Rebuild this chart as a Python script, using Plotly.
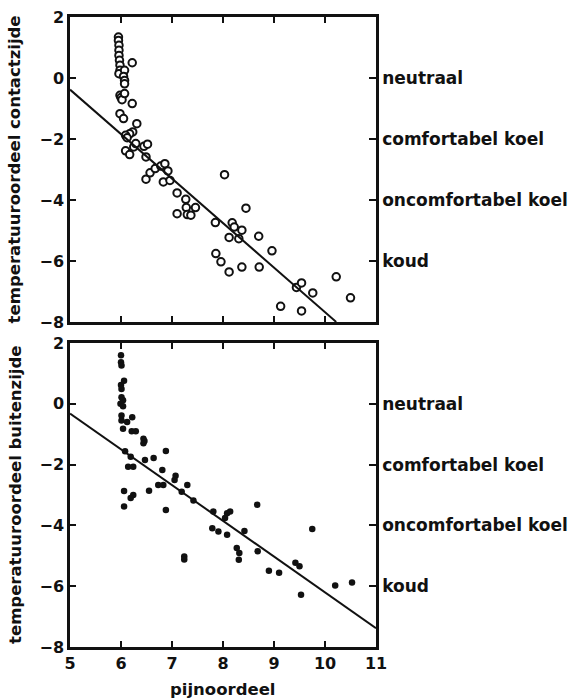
import plotly.graph_objects as go

# Open circles: pain score vs. temperature judgement, contact side
contact_x = [5.95, 5.95, 5.96, 5.96, 5.96, 5.97, 5.98, 5.98, 5.96, 6.07, 6.05, 6.07, 6.07,
             6.22, 5.98, 6.00, 6.02, 6.07, 6.22, 5.98, 6.05, 6.31, 6.23, 6.17, 6.09, 6.12,
             6.09, 6.17, 6.25, 6.29, 6.45, 6.52, 6.49, 6.49, 6.57, 6.67, 6.78, 6.86, 6.92,
             6.83, 6.96, 7.10, 7.10, 7.27, 7.28, 7.30, 7.37, 7.46, 7.85, 7.86, 7.96, 8.03,
             8.12, 8.12, 8.18, 8.22, 8.31, 8.37, 8.37, 8.45, 8.70, 8.71, 8.96, 9.13, 9.44,
             9.54, 9.54, 9.76, 10.22, 10.50]
contact_y = [1.34, 1.23, 1.07, 0.91, 0.74, 0.58, 0.42, 0.25, 0.14, 0.25, 0.05, -0.08, -0.19,
             0.50, -0.57, -0.64, -0.71, -0.51, -0.84, -1.17, -1.33, -1.50, -1.77, -1.83, -1.88,
             -1.96, -2.39, -2.51, -2.26, -2.15, -2.24, -2.17, -2.59, -3.32, -3.11, -2.97, -2.89,
             -2.81, -3.05, -3.41, -3.36, -3.77, -4.45, -3.98, -4.25, -4.48, -4.50, -4.25, -4.74,
             -5.76, -6.03, -3.17, -5.23, -6.36, -4.75, -4.89, -5.27, -4.99, -6.20, -4.27, -5.19,
             -6.20, -5.67, -7.49, -6.87, -6.72, -7.64, -7.05, -6.52, -7.21]

# Filled dots: pain score vs. temperature judgement, outer side
outer_x = [6.00, 6.00, 6.01, 6.06, 6.00, 6.01, 6.01, 6.04, 5.99, 6.04, 6.01, 6.01, 6.12,
           6.22, 6.04, 6.21, 6.29, 6.44, 6.46, 6.44, 6.08, 6.19, 6.88, 6.47, 6.64, 6.14,
           6.24, 6.81, 7.07, 7.05, 6.73, 6.83, 7.30, 6.06, 6.55, 7.19, 6.24, 6.19, 6.06,
           6.88, 7.42, 7.81, 8.08, 8.14, 8.04, 7.79, 7.91, 8.08, 8.42, 8.67, 8.27, 8.32,
           8.31, 7.24, 7.24, 8.68, 8.90, 9.10, 9.42, 9.50, 9.53, 9.75, 10.20, 10.53]
outer_y = [1.60, 1.37, 1.26, 0.76, 0.62, 0.49, 0.22, 0.12, 0.00, -0.08, -0.38, -0.55, -0.60,
           -0.44, -0.82, -0.90, -0.90, -1.15, -1.22, -1.30, -1.56, -1.74, -1.55, -1.85, -1.78,
           -2.07, -2.07, -2.18, -2.37, -2.51, -2.67, -2.67, -2.67, -2.87, -2.86, -2.89, -3.00,
           -3.10, -3.38, -3.49, -3.18, -3.54, -3.60, -3.54, -3.76, -4.09, -4.20, -4.31, -4.18,
           -3.32, -4.74, -4.91, -5.13, -5.02, -5.12, -4.85, -5.49, -5.56, -5.23, -5.34, -6.28,
           -4.12, -5.98, -5.88]

# Fitted regression lines (end points)
contact_fit_x = [5.0, 10.22]
contact_fit_y = [-0.38, -8.0]
outer_fit_x = [5.0, 11.0]
outer_fit_y = [-0.32, -7.38]

x_ticks = [5, 6, 7, 8, 9, 10, 11]
y_ticks = [2, 0, -2, -4, -6, -8]
scale_vals = [0, -2, -4, -6]
scale_text = ["neutraal", "comfortabel koel", "oncomfortabel koel", "koud"]

FONT = "DejaVu Sans"
INK = "#111111"

fig = go.Figure()

fig.add_trace(go.Scatter(x=contact_x, y=contact_y, mode="markers", xaxis="x", yaxis="y",
                         marker=dict(symbol="circle", size=7.5, color="white",
                                     line=dict(color=INK, width=2)),
                         showlegend=False))
fig.add_trace(go.Scatter(x=contact_fit_x, y=contact_fit_y, mode="lines", xaxis="x", yaxis="y",
                         line=dict(color=INK, width=2), showlegend=False))

fig.add_trace(go.Scatter(x=outer_x, y=outer_y, mode="markers", xaxis="x2", yaxis="y3",
                         marker=dict(symbol="circle", size=6.5, color=INK),
                         showlegend=False))
fig.add_trace(go.Scatter(x=outer_fit_x, y=outer_fit_y, mode="lines", xaxis="x2", yaxis="y3",
                         line=dict(color=INK, width=2), showlegend=False))

# invisible traces to activate the right-hand scale axes
fig.add_trace(go.Scatter(x=[5], y=[0], mode="markers", xaxis="x", yaxis="y2",
                         marker=dict(opacity=0), showlegend=False, hoverinfo="skip"))
fig.add_trace(go.Scatter(x=[5], y=[0], mode="markers", xaxis="x2", yaxis="y4",
                         marker=dict(opacity=0), showlegend=False, hoverinfo="skip"))

tick_font = dict(family=FONT, size=16, color=INK, weight="bold")
scale_font = dict(family=FONT, size=17, color=INK, weight="bold")
title_font = dict(family=FONT, size=16.5, color=INK, weight="bold")

top_dom = [0.516, 1.0]
bot_dom = [0.0, 0.4825]

xcommon = dict(range=[5, 11], tickvals=x_ticks, ticks="inside", ticklen=6, tickwidth=2,
               tickcolor=INK, showline=True, linewidth=2.5, linecolor=INK, mirror="ticks",
               showgrid=False, zeroline=False, tickfont=tick_font, automargin=False)
ycommon = dict(range=[-8, 2], tickvals=y_ticks, ticks="inside", ticklen=6, tickwidth=2,
               tickcolor=INK, showline=True, linewidth=2.5, linecolor=INK, mirror=True,
               showgrid=False, zeroline=False, tickfont=tick_font, automargin=False)
yright = dict(range=[-8, 2], tickvals=scale_vals, ticktext=scale_text, ticks="inside",
              ticklen=7, tickwidth=2, tickcolor=INK, side="right", showline=True,
              linewidth=2.5, linecolor=INK, showgrid=False, zeroline=False,
              tickfont=scale_font, automargin=False)

fig.update_layout(
    width=571, height=700,
    margin=dict(l=70, r=195, t=17, b=53, autoexpand=False),
    paper_bgcolor="white", plot_bgcolor="white",
    xaxis=dict(xcommon, anchor="y", showticklabels=False, domain=[0, 1]),
    yaxis=dict(ycommon, anchor="x", domain=top_dom),
    yaxis2=dict(yright, anchor="x", overlaying="y"),
    xaxis2=dict(xcommon, anchor="y3", domain=[0, 1]),
    yaxis3=dict(ycommon, anchor="x2", domain=bot_dom),
    yaxis4=dict(yright, anchor="x2", overlaying="y3"),
    annotations=[
        dict(text="temperatuuroordeel contactzijde", xref="paper", yref="paper",
             x=-0.18, y=(top_dom[0] + top_dom[1]) / 2, textangle=-90, showarrow=False,
             xanchor="center", yanchor="middle", font=title_font),
        dict(text="temperatuuroordeel buitenzijde", xref="paper", yref="paper",
             x=-0.18, y=(bot_dom[0] + bot_dom[1]) / 2, textangle=-90, showarrow=False,
             xanchor="center", yanchor="middle", font=title_font),
        dict(text="pijnoordeel", xref="paper", yref="paper", x=0.5, y=-0.068,
             showarrow=False, xanchor="center", yanchor="middle", font=title_font),
    ],
)

fig.write_html("out.html")
